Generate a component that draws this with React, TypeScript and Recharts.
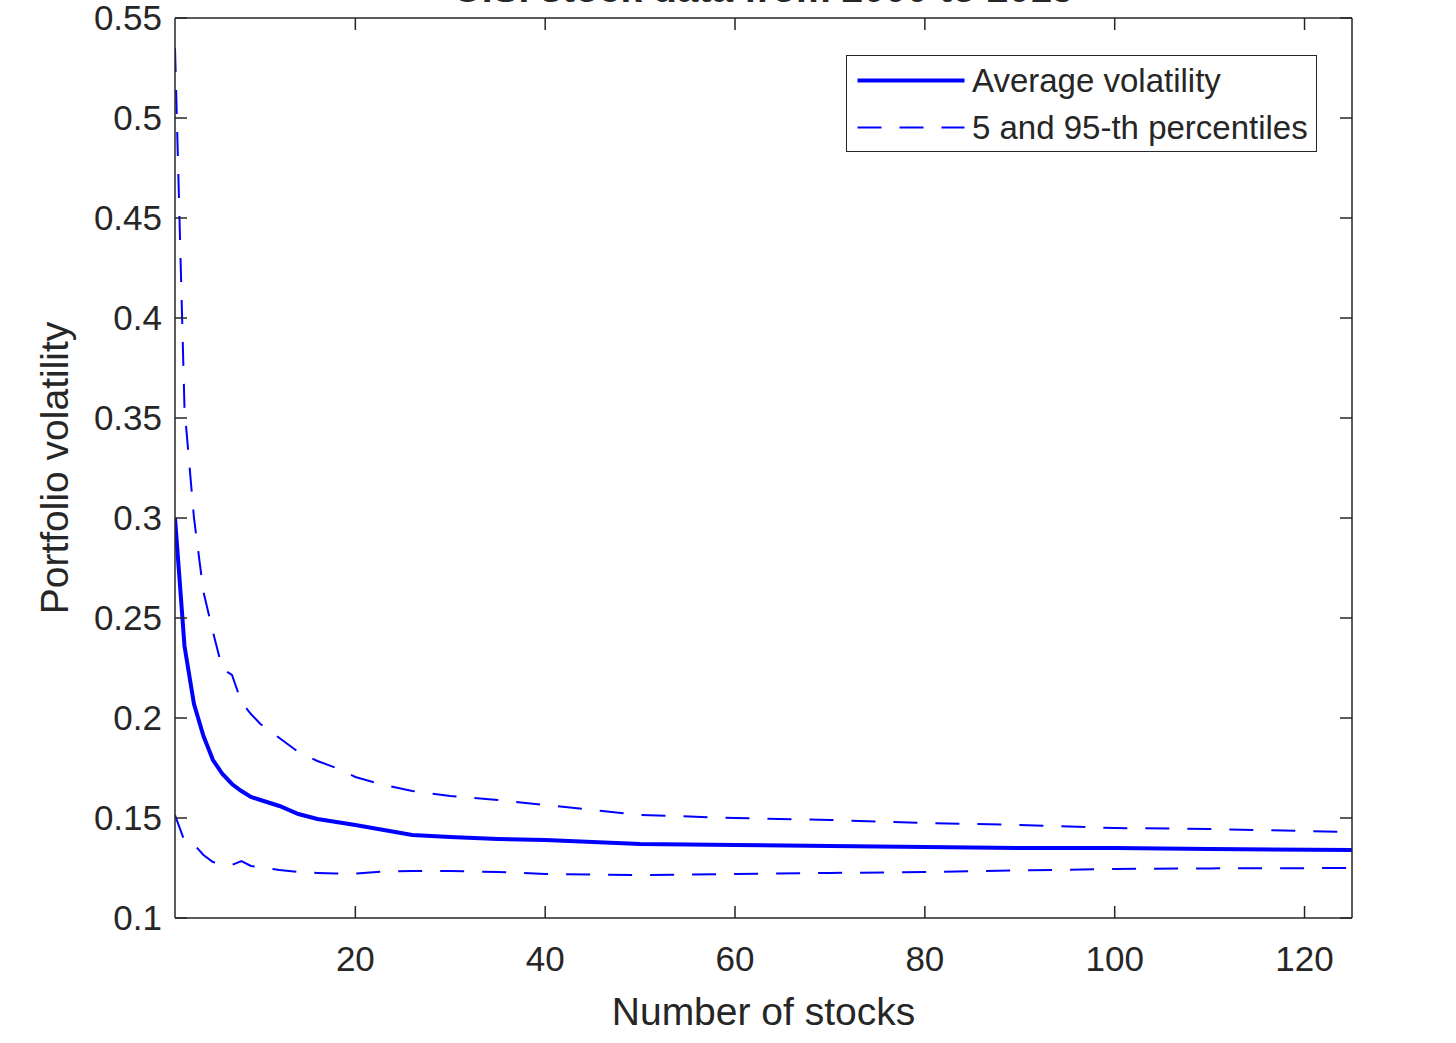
import React from "react";
import { LineChart, Line, XAxis, YAxis, Legend, Label } from "recharts";

const FONT = '"Liberation Sans", Arial, Helvetica, sans-serif';
const INK = "#262626";
const BLUE = "#0000ff";

// number of stocks in the portfolio
const nStocks = [1, 2, 3, 4, 5, 6, 7, 8, 9, 10, 12, 14, 16, 18, 20, 23, 26, 30, 35, 40, 50, 60, 70, 80, 90, 100, 110, 125];

// average portfolio volatility
const avgVol = [
  0.3, 0.236, 0.207, 0.191, 0.179, 0.172, 0.167, 0.1635, 0.1605, 0.159, 0.156, 0.152, 0.1495, 0.148,
  0.1465, 0.144, 0.1415, 0.1405, 0.1395, 0.139, 0.137, 0.1365, 0.136, 0.1355, 0.135, 0.135, 0.1345, 0.134,
];

// 95th percentile
const p95Vol = [
  0.535, 0.355, 0.3, 0.263, 0.243, 0.2245, 0.2215, 0.208, 0.202, 0.197, 0.19, 0.183, 0.1785, 0.175,
  0.1705, 0.1665, 0.1635, 0.161, 0.159, 0.1565, 0.1515, 0.15, 0.149, 0.1475, 0.1465, 0.145, 0.1445, 0.143,
];

// 5th percentile
const p5Vol = [
  0.1515, 0.1385, 0.1368, 0.1315, 0.128, 0.1265, 0.1265, 0.1285, 0.126, 0.1255, 0.124, 0.123, 0.1225, 0.1222,
  0.1222, 0.1232, 0.1235, 0.1235, 0.123, 0.122, 0.1215, 0.122, 0.1225, 0.123, 0.1238, 0.1245, 0.1248, 0.125,
];

const xTicks = [20, 40, 60, 80, 100, 120];
const yTicks = [0.1, 0.15, 0.2, 0.25, 0.3, 0.35, 0.4, 0.45, 0.5, 0.55];
const legendOrder = ["avg", "p95"];

const data = nStocks.map((n, i) => ({ n, avg: avgVol[i], p95: p95Vol[i], p5: p5Vol[i] }));

const tickStyle = { fontSize: 35, fill: INK, fontFamily: FONT };
const axisLineStyle = { stroke: INK, strokeWidth: 1.5 };

function LegendBox({ payload }: any) {
  const items = (payload || [])
    .filter((p: any) => p.type !== "none")
    .sort((a: any, b: any) => legendOrder.indexOf(a.dataKey) - legendOrder.indexOf(b.dataKey));
  return (
    <div
      style={{
        border: `1.5px solid ${INK}`,
        background: "#fff",
        padding: "1px 0 0 0",
        fontFamily: FONT,
        fontSize: 33,
        color: INK,
        boxSizing: "border-box",
        width: "100%",
      }}
    >
      {items.map((entry: any) => (
        <div key={entry.value} style={{ display: "flex", alignItems: "center", height: 47 }}>
          <svg width={125} height={47} style={{ flex: "none" }}>
            <line
              x1={10.5}
              x2={117.5}
              y1={23.5}
              y2={23.5}
              stroke={entry.color}
              strokeWidth={entry.payload?.strokeWidth}
              strokeDasharray={entry.payload?.strokeDasharray}
            />
          </svg>
          <span style={{ whiteSpace: "nowrap" }}>{entry.value}</span>
        </div>
      ))}
    </div>
  );
}

// the title sits mostly above the top edge, as in the source figure
const renderTitle = ({ viewBox }: any) => (
  <text
    x={viewBox.x + viewBox.width / 2}
    y={viewBox.y - 15}
    textAnchor="middle"
    fontFamily={FONT}
    fontSize={39}
    fontWeight="bold"
    fill={INK}
  >
    U.S. stock data from 2000 to 2015
  </text>
);

const renderXLabel = ({ viewBox }: any) => (
  <text x={viewBox.x + viewBox.width / 2} y={viewBox.y + 107} textAnchor="middle" fontFamily={FONT} fontSize={39} fill={INK}>
    Number of stocks
  </text>
);

const renderYLabel = ({ viewBox }: any) => {
  const x = viewBox.x + 68;
  const y = viewBox.y + viewBox.height / 2;
  return (
    <text x={x} y={y} transform={`rotate(-90 ${x} ${y})`} textAnchor="middle" fontFamily={FONT} fontSize={39} fill={INK}>
      Portfolio volatility
    </text>
  );
};

export default function App() {
  return (
    <div style={{ position: "absolute", left: 0, top: 0, width: 1456, height: 1043, background: "#fff" }}>
      <LineChart width={1456} height={1043} data={data} margin={{ top: 17, right: 103, bottom: 0, left: 0 }}>
        <XAxis
          dataKey="n"
          type="number"
          domain={[1, 125]}
          allowDataOverflow
          ticks={xTicks}
          interval={0}
          height={125}
          tickSize={-12}
          tickMargin={40}
          tick={tickStyle}
          axisLine={axisLineStyle}
          tickLine={axisLineStyle}
        >
          <Label content={renderXLabel} />
        </XAxis>
        <XAxis
          xAxisId="top"
          orientation="top"
          dataKey="n"
          type="number"
          domain={[1, 125]}
          allowDataOverflow
          ticks={xTicks}
          interval={0}
          height={1}
          tickSize={-12}
          tickFormatter={() => ""}
          axisLine={axisLineStyle}
          tickLine={axisLineStyle}
        >
          <Label content={renderTitle} />
        </XAxis>
        <YAxis
          type="number"
          domain={[0.1, 0.55]}
          allowDataOverflow
          ticks={yTicks}
          interval={0}
          width={175}
          tickSize={-12}
          tickMargin={25}
          tick={tickStyle}
          tickFormatter={(v: number) => String(v)}
          axisLine={axisLineStyle}
          tickLine={axisLineStyle}
        >
          <Label content={renderYLabel} />
        </YAxis>
        <YAxis
          yAxisId="right"
          orientation="right"
          type="number"
          domain={[0.1, 0.55]}
          allowDataOverflow
          ticks={yTicks}
          interval={0}
          width={1}
          tickSize={-12}
          tickFormatter={() => ""}
          axisLine={axisLineStyle}
          tickLine={axisLineStyle}
        />
        <Legend
          layout="vertical"
          align="center"
          verticalAlign="middle"
          content={<LegendBox />}
          wrapperStyle={{ position: "absolute", left: 846, top: 55, width: 471 }}
        />
        <Line
          dataKey="avg"
          name="Average volatility"
          type="linear"
          stroke={BLUE}
          strokeWidth={4}
          dot={false}
          activeDot={false}
          isAnimationActive={false}
        />
        <Line
          dataKey="p95"
          name="5 and 95-th percentiles"
          type="linear"
          stroke={BLUE}
          strokeWidth={2}
          strokeDasharray="24 18"
          dot={false}
          activeDot={false}
          isAnimationActive={false}
        />
        <Line
          dataKey="p5"
          name="5th percentile"
          type="linear"
          stroke={BLUE}
          strokeWidth={2}
          strokeDasharray="24 18"
          dot={false}
          activeDot={false}
          legendType="none"
          isAnimationActive={false}
        />
      </LineChart>
    </div>
  );
}
